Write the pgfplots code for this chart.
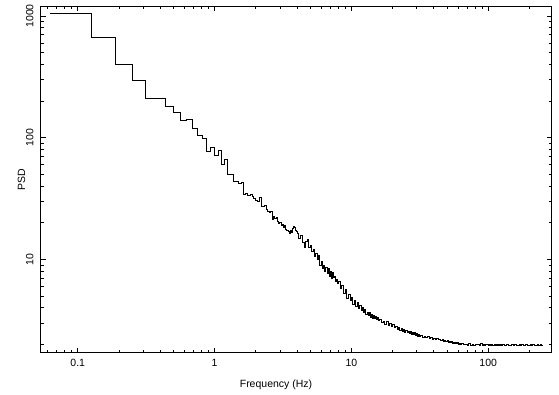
\documentclass[border=0pt]{standalone}
\usepackage{fontspec}
\setmainfont{Liberation Sans}
\usepackage{pgfplots}
\pgfplotsset{compat=1.18}
\begin{document}
\begin{tikzpicture}
\begin{axis}[
  name=ax,
  xmode=log, ymode=log,
  scale only axis,
  width=511pt, height=346.7pt,
  xmin=0.05361, xmax=290.9,
  ymin=1.711, ymax=1208,
  xtick={0.1,1,10,100},
  xticklabels={0.1,1,10,100},
  minor xtick={0.06,0.07,0.08,0.09,0.2,0.3,0.4,0.5,0.6,0.7,0.8,0.9,2,3,4,5,6,7,8,9,20,30,40,50,60,70,80,90,200},
  ytick={10,100,1000},
  yticklabels={10,100,1000},
  minor ytick={2,3,4,5,6,7,8,9,20,30,40,50,60,70,80,90,200,300,400,500,600,700,800,900},
  major tick length=5pt,
  minor tick length=3pt,
  tick align=inside,
  tick style={black, line width=0.7pt},
  axis line style={black, line width=0.8pt},
  xticklabel style={font=\fontsize{10.5}{12}\selectfont, anchor=north, inner sep=0pt, yshift=-6.5pt},
  yticklabel style={font=\fontsize{10.5}{12}\selectfont, xshift=-7pt, rotate=90, anchor=south, inner sep=0pt},
  xlabel={Frequency (Hz)},
  ylabel={PSD},
  xlabel style={font=\fontsize{10.5}{12}\selectfont, at={(axis description cs:0.4605,-0.1018)}, anchor=base},
  ylabel style={font=\fontsize{10.5}{12}\selectfont, at={(axis description cs:-0.0376,0.5)}, anchor=center},
]
\addplot[const plot, black, line width=0.8pt, mark=none] table[x=f, y=p] {
f p
0.0625 1052
0.125 668
0.1875 401
0.25 296
0.3125 210
0.375 210
0.4375 182
0.5 162
0.5625 139
0.625 142
0.6875 119.5
0.75 105
0.8125 99
0.875 77.8
0.9375 82.8
1.0 71.7
1.0625 79.2
1.125 60.4
1.1875 66.4
1.25 50.3
1.3125 50.0
1.375 44.0
1.4375 43.5
1.5 42.0
1.5625 43.2
1.625 34.3
1.6875 34.8
1.75 33.5
1.8125 34.0
1.875 32.8
1.9375 32.0
2.0 30.8
2.0625 30.2
2.125 32.5
2.1875 27.5
2.25 27.0
2.3125 28.0
2.375 25.6
2.4375 25.0
2.5 24.2
2.5625 24.6
2.625 21.2
2.6875 22.5
2.75 21.9
2.8125 22.3
2.875 20.4
2.9375 19.6
3.0 20.2
3.0625 19.0
3.125 19.5
3.1875 18.2
3.25 19.1
3.3125 17.6
3.375 17.4
3.4375 16.9
3.5 16.3
3.5625 17.4
3.625 16.8
3.6875 18.1
3.75 18.8
3.8125 18.2
3.875 17.4
3.9375 16.9
4.0 16.4
4.125 14.8
4.25 15.6
4.375 13.9
4.5 12.6
4.625 14.0
4.75 14.6
4.875 12.5
5.0 13.1
5.125 11.6
5.25 12.0
5.375 10.6
5.5 11.2
5.625 10.0
5.75 10.7
5.875 8.9
6.0 9.6
6.125 8.5
6.25 9.0
6.375 7.9
6.5 8.6
6.625 7.6
6.75 8.4
6.875 7.3
7.0 7.9
7.125 7.0
7.25 7.8
7.375 7.1
7.5 7.2
7.625 6.6
7.75 6.9
7.875 6.3
8.0 6.6
8.25 5.8
8.5 6.1
8.75 5.3
9.0 5.7
9.25 4.8
9.5 5.2
9.75 4.6
10.0 4.85
10.25 4.3
10.5 4.6
10.75 4.1
11.0 4.4
11.25 3.95
11.5 4.2
11.75 3.8
12.0 4.0
12.25 3.65
12.5 3.85
12.75 3.5
13.0 3.7
13.25 3.45
13.5 3.65
13.75 3.35
14.0 3.55
14.25 3.3
14.5 3.45
14.75 3.25
15.0 3.4
15.25 3.2
15.5 3.33
15.75 3.15
16.0 3.22
16.5 3.05
17.0 3.12
17.5 2.95
18.0 3.07
18.5 2.87
19.0 2.99
19.5 2.81
20.0 2.92
20.5 2.74
21.0 2.84
21.5 2.68
22.0 2.76
22.5 2.60
23.0 2.70
23.5 2.58
24.0 2.66
24.5 2.53
25.0 2.62
25.5 2.50
26.0 2.58
26.5 2.45
27.0 2.55
27.5 2.43
28.0 2.52
28.5 2.41
29.0 2.49
29.5 2.37
30.0 2.45
30.5 2.35
31.0 2.42
31.5 2.31
32 2.36
33 2.30
34 2.33
35 2.27
36 2.31
37 2.25
38 2.28
39 2.22
40 2.26
41 2.20
42 2.23
43 2.18
44 2.22
45 2.16
46 2.19
47 2.13
48 2.17
49 2.11
50 2.14
51 2.09
52 2.12
53 2.07
54 2.10
55 2.05
56 2.09
57 2.04
58 2.07
59 2.03
60 2.06
61 2.02
62 2.05
63 2.01
64 2.04
66 1.99
68 2.02
70 1.97
72 2.03
74 1.98
76 2.01
78 1.96
80 2.02
82 1.99
84 2.00
86 1.97
88 2.03
90 1.98
92 2.00
94 1.96
96 2.02
98 1.99
100 1.97
102 2.01
104 1.98
106 2.00
108 1.96
110 2.02
112 1.98
114 1.99
116 1.97
118 2.01
120 1.98
122 2.00
124 1.97
126 1.99
128 1.99
132 1.97
136 2.00
140 1.96
144 1.98
148 2.01
152 1.97
156 1.99
160 1.96
164 1.98
168 2.00
172 1.97
176 1.99
180 1.96
184 1.98
188 2.00
192 1.97
196 1.98
200 1.96
204 1.99
208 1.97
212 2.00
216 1.96
220 1.98
224 1.97
228 1.99
232 1.96
236 1.98
240 2.00
244 1.97
248 1.98
250 1.98
};
\end{axis}
\pgfresetboundingbox
\path[use as bounding box] ([xshift=-40.7pt,yshift=-41.3pt]ax.south west) rectangle ([xshift=7.3pt,yshift=6pt]ax.north east);
\end{tikzpicture}
\end{document}
